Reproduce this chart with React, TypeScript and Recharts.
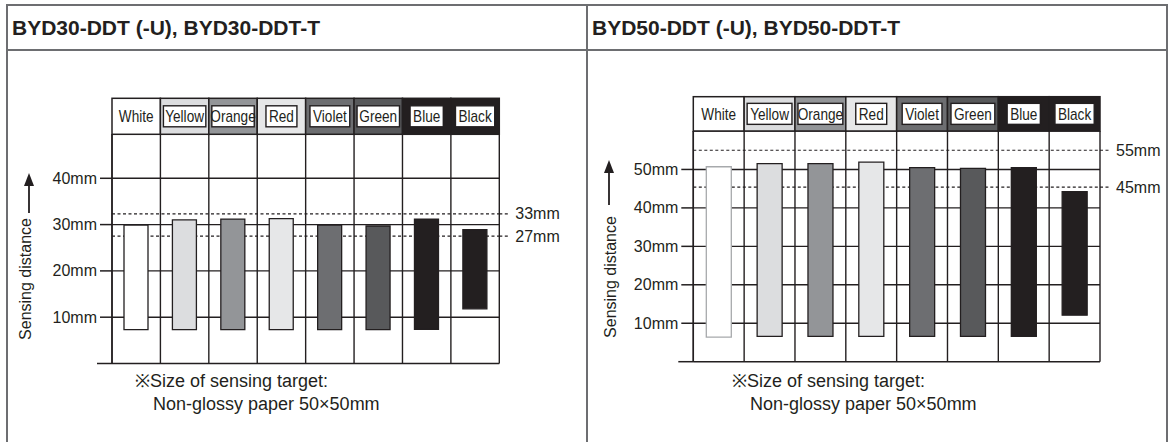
import React from "react";
import { Bar, BarChart, CartesianGrid, Cell, ReferenceLine, XAxis, YAxis } from "recharts";

const INK = "#231f20";
const FRAME = "#6d6e71";
const SANS = "Arial, 'Liberation Sans', Helvetica, sans-serif";

// target colours (categories), drawn as grey shades like the original sheet
const categories = ["White", "Yellow", "Orange", "Red", "Violet", "Green", "Blue", "Black"];
const shades = ["#ffffff", "#dcdddf", "#939598", "#e6e7e8", "#6d6e71", "#58595b", "#231f20", "#231f20"];
const boxed = [false, true, true, true, true, true, true, true];

// BYD30: sensing range (mm), bottom and top of each bar
const low30 = [7.3, 7.3, 7.3, 7.3, 7.3, 7.3, 7.4, 11.8];
const high30 = [29.9, 31.0, 31.2, 31.3, 29.9, 29.7, 31.2, 28.9];
const ticks30 = [0, 10, 20, 30, 40];
const refs30 = [32.3, 27.5];
const refLabels30 = ["33mm", "27mm"];

// BYD50
const low50 = [6.4, 6.6, 6.6, 6.6, 6.6, 6.6, 6.6, 12.1];
const high50 = [50.7, 51.5, 51.5, 51.9, 50.5, 50.3, 50.5, 44.2];
const ticks50 = [0, 10, 20, 30, 40, 50];
const refs50 = [55, 45.4];
const refLabels50 = ["55mm", "45mm"];

// no narrow font installed, so header labels get squeezed to ~80% width
const LABEL_SIZE = 17;
const SQUEEZE = 0.8;

let canvasCtx: CanvasRenderingContext2D | null = null;
function textWidth(s: string, font: string) {
  if (!canvasCtx) canvasCtx = document.createElement("canvas").getContext("2d");
  if (!canvasCtx) return s.length * 8;
  canvasCtx.font = font;
  return canvasCtx.measureText(s).width;
}

type PanelProps = {
  left: number;
  width: number;
  low: number[];
  high: number[];
  ticks: number[];
  domain: [number, number];
  refs: number[];
  refLabels: string[];
  margin: { top: number; right: number; bottom: number };
  axisWidth: number;
  headerH: number;
  barSize: number;
  whiteStroke: string;
};

function Panel(p: PanelProps) {
  const data = categories.map((name, i) => ({ name, range: [p.low[i], p.high[i]] }));
  const plotW = p.width - p.axisWidth - p.margin.right;
  const band = plotW / categories.length;

  const headerTick = (t: any) => {
    const i = categories.indexOf(t.payload.value);
    const x0 = t.x - band / 2;
    const top = t.y - p.headerH;
    const tw = textWidth(t.payload.value, `${LABEL_SIZE}px Arial, 'Liberation Sans', sans-serif`) * SQUEEZE;
    const bw = Math.min(band - 6, tw + 6);
    const mid = top + p.headerH / 2;
    return (
      <g>
        <rect x={x0} y={top} width={band} height={p.headerH} fill={shades[i]} stroke={INK} strokeWidth={1.5} />
        {boxed[i] && (
          <rect x={t.x - bw / 2} y={mid - 10.5} width={bw} height={21} fill="#fff" stroke={INK} strokeWidth={1.4} />
        )}
        <text
          x={t.x}
          y={mid + 0.5}
          textAnchor="middle"
          dominantBaseline="central"
          fontFamily={SANS}
          fontSize={LABEL_SIZE}
          textLength={tw}
          lengthAdjust="spacingAndGlyphs"
          fill={INK}
        >
          {t.payload.value}
        </text>
      </g>
    );
  };

  const yTick = (t: any) => {
    const v = t.payload.value;
    return (
      <g>
        <line x1={t.x - (v === 0 ? 15 : 12)} x2={t.x} y1={t.y} y2={t.y} stroke={INK} strokeWidth={1.5} />
        {v !== 0 && (
          <text x={t.x - 15} y={t.y} textAnchor="end" dominantBaseline="central" fontFamily={SANS} fontSize={16} fill={INK}>
            {v}mm
          </text>
        )}
      </g>
    );
  };

  const refLabel = (text: string) => (lp: any) => {
    const vb = lp.viewBox || {};
    const right = vb.x + vb.width;
    return (
      <g>
        <line x1={right} x2={right + 11} y1={vb.y} y2={vb.y} stroke={INK} strokeWidth={1.2} strokeDasharray="3 2.5" />
        <text x={right + 16} y={vb.y} dominantBaseline="central" fontFamily={SANS} fontSize={16} fill={INK}>
          {text}
        </text>
      </g>
    );
  };

  return (
    <div style={{ position: "absolute", left: p.left, top: 0 }}>
      <BarChart
        width={p.width}
        height={442}
        data={data}
        margin={{ top: p.margin.top, right: p.margin.right, bottom: p.margin.bottom, left: 0 }}
      >
        <CartesianGrid
          stroke={INK}
          strokeWidth={1.4}
          verticalCoordinatesGenerator={() => categories.map((_, i) => p.axisWidth + i * band).concat([p.axisWidth + plotW])}
        />
        <XAxis
          dataKey="name"
          orientation="top"
          height={p.headerH}
          axisLine={false}
          tickLine={false}
          tickSize={0}
          tickMargin={0}
          interval={0}
          tick={headerTick}
        />
        <YAxis
          type="number"
          domain={p.domain}
          ticks={p.ticks}
          interval={0}
          width={p.axisWidth}
          axisLine={{ stroke: INK, strokeWidth: 1.5 }}
          tickLine={false}
          tickSize={0}
          tickMargin={0}
          tick={yTick}
        />
        {p.refs.map((v, i) => (
          <ReferenceLine
            key={v}
            y={v}
            stroke={INK}
            strokeWidth={1.2}
            strokeDasharray="3 2.5"
            zIndex={250}
            label={refLabel(p.refLabels[i])}
          />
        ))}
        <Bar dataKey="range" barSize={p.barSize} isAnimationActive={false}>
          {data.map((d, i) => (
            <Cell key={d.name} fill={shades[i]} stroke={i === 0 ? p.whiteStroke : INK} strokeWidth={1.3} />
          ))}
        </Bar>
      </BarChart>
    </div>
  );
}

function AxisTitle({ x, y, ax, tip, base }: { x: number; y: number; ax: number; tip: number; base: number }) {
  return (
    <g>
      <text
        x={x}
        y={y}
        transform={`rotate(-90 ${x} ${y})`}
        textAnchor="middle"
        dominantBaseline="central"
        fontFamily={SANS}
        fontSize={16}
        fill={INK}
      >
        Sensing distance
      </text>
      <line x1={ax} x2={ax} y1={base} y2={tip + 10} stroke={INK} strokeWidth={1.8} />
      <polygon points={`${ax},${tip} ${ax - 5},${tip + 13} ${ax + 5},${tip + 13}`} fill={INK} />
    </g>
  );
}

function Note({ left, top }: { left: number; top: number }) {
  return (
    <div style={{ position: "absolute", left, top, fontFamily: SANS, fontSize: 18, lineHeight: "23px", color: INK }}>
      <div>※Size of sensing target:</div>
      <div style={{ paddingLeft: 18 }}>Non-glossy paper 50×50mm</div>
    </div>
  );
}

export default function App() {
  return (
    <div style={{ position: "relative", width: 1169, height: 442, background: "#fff", overflow: "hidden" }}>
      <style>{`body{margin:0}`}</style>
      <div
        style={{
          position: "absolute",
          left: 6,
          top: 4,
          width: 1162,
          height: 470,
          border: `2px solid ${FRAME}`,
          boxSizing: "border-box",
        }}
      />
      <div style={{ position: "absolute", left: 6, top: 49, width: 1162, height: 2, background: FRAME }} />
      <div style={{ position: "absolute", left: 586, top: 4, width: 2, height: 440, background: FRAME }} />
      {[
        { left: 12, text: "BYD30-DDT (-U), BYD30-DDT-T" },
        { left: 592, text: "BYD50-DDT (-U), BYD50-DDT-T" },
      ].map((t) => (
        <div
          key={t.left}
          style={{
            position: "absolute",
            left: t.left,
            top: 6,
            height: 43,
            display: "flex",
            alignItems: "center",
            fontFamily: SANS,
            fontWeight: "bold",
            fontSize: 21,
            color: INK,
          }}
        >
          {t.text}
        </div>
      ))}

      <Panel
        left={0}
        width={585}
        low={low30}
        high={high30}
        ticks={ticks30}
        domain={[0, 49.5]}
        refs={refs30}
        refLabels={refLabels30}
        margin={{ top: 98.3, right: 85.7, bottom: 78.5 }}
        axisWidth={112}
        headerH={36}
        barSize={24}
        whiteStroke={INK}
      />
      <Panel
        left={587}
        width={582}
        low={low50}
        high={high50}
        ticks={ticks50}
        domain={[0, 60]}
        refs={refs50}
        refLabels={refLabels50}
        margin={{ top: 96.7, right: 69, bottom: 80.3 }}
        axisWidth={106.3}
        headerH={34.3}
        barSize={25}
        whiteStroke="#a7a9ac"
      />

      <svg width={1169} height={442} style={{ position: "absolute", left: 0, top: 0, pointerEvents: "none" }}>
        <AxisTitle x={25} y={279} ax={29} tip={173} base={213} />
        <AxisTitle x={610} y={277} ax={609} tip={160} base={205} />
      </svg>

      <Note left={135} top={370} />
      <Note left={732} top={370} />
    </div>
  );
}
